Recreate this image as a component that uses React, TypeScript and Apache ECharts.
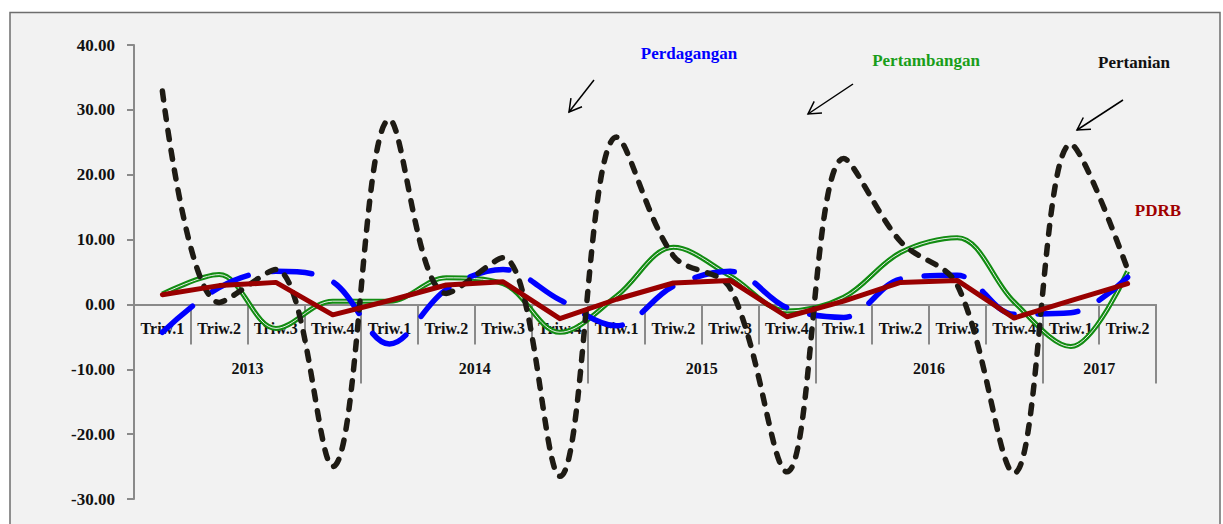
import React, { useEffect, useRef } from "react";
import * as echarts from "echarts";

const quarterLabels = [
  "Triw.1", "Triw.2", "Triw.3", "Triw.4",
  "Triw.1", "Triw.2", "Triw.3", "Triw.4",
  "Triw.1", "Triw.2", "Triw.3", "Triw.4",
  "Triw.1", "Triw.2", "Triw.3", "Triw.4",
  "Triw.1", "Triw.2",
];
const yearLabels = ["2013", "2014", "2015", "2016", "2017"];
const yearCenters = [2, 6, 10, 14, 17];
const yearBounds = [0, 4, 8, 12, 16, 18];

const pertanian = [32.9, 0.3, 5.4, -25.0, 28.5, 1.7, 7.2, -26.5, 25.8, 7.5, 2.5, -25.8, 22.5, 9.7, 3.0, -26.0, 24.7, 5.4];
const perdagangan = [-4.3, 2.6, 5.1, 3.5, -6.1, 2.3, 5.4, 0.7, -3.3, 2.8, 5.1, -0.5, -2.0, 3.9, 4.5, -1.5, -1.3, 4.2];
const pertambangan = [1.6, 4.6, -3.7, 0.5, 0.5, 4.1, 3.2, -4.3, 1.3, 8.8, 4.4, -1.0, 1.1, 8.0, 10.3, 0.4, -6.5, 5.1];
const pdrb = [1.5, 2.9, 3.4, -1.6, 0.6, 3.0, 3.5, -2.2, 0.8, 3.3, 3.7, -1.9, 0.5, 3.4, 3.7, -2.1, 0.6, 3.2];

const Y_MIN = -30;
const Y_MAX = 40;
const GRID_TOP = 45;
const GRID_BOTTOM = 25;
const CHART_H = 524;
const plotH = CHART_H - GRID_TOP - GRID_BOTTOM;
// shift the bottom axes up so that they sit on the zero line
const zeroOffset = -plotH * (0 - Y_MIN) / (Y_MAX - Y_MIN);

const FONT = '"Liberation Serif", "Times New Roman", serif';

function arrow(tail: number[], tip: number[]) {
  const dx = tail[0] - tip[0];
  const dy = tail[1] - tip[1];
  const len = Math.sqrt(dx * dx + dy * dy);
  const ux = dx / len;
  const uy = dy / len;
  const L = 14;
  const a = Math.PI / 6;
  const h1 = [tip[0] + L * (ux * Math.cos(a) - uy * Math.sin(a)), tip[1] + L * (ux * Math.sin(a) + uy * Math.cos(a))];
  const h2 = [tip[0] + L * (ux * Math.cos(-a) - uy * Math.sin(-a)), tip[1] + L * (ux * Math.sin(-a) + uy * Math.cos(-a))];
  return [
    { type: "line", silent: true, shape: { x1: tail[0], y1: tail[1], x2: tip[0], y2: tip[1] }, style: { stroke: "#000", lineWidth: 1.5 } },
    { type: "polyline", silent: true, shape: { points: [h1, tip, h2] }, style: { stroke: "#000", lineWidth: 1.5, fill: null } },
  ];
}

function label(text: string, x: number, y: number, color: string) {
  return {
    type: "text",
    silent: true,
    x,
    y,
    style: {
      text,
      fill: color,
      font: `bold 17px ${FONT}`,
      align: "center",
      verticalAlign: "middle",
      textAlign: "center",
      textVerticalAlign: "middle",
    },
  };
}

export default function App() {
  const ref = useRef<HTMLDivElement>(null);
  useEffect(() => {
    if (!ref.current) return;
    const chart = echarts.init(ref.current, undefined, { renderer: "svg" });
    const axisGray = "#8a8a8a";
    chart.setOption({
      animation: false,
      backgroundColor: "#ffffff",
      grid: { left: 134, right: 67, top: GRID_TOP, bottom: GRID_BOTTOM, containLabel: false, outerBoundsMode: "none" },
      xAxis: [
        {
          type: "category",
          data: quarterLabels,
          position: "bottom",
          offset: zeroOffset,
          boundaryGap: true,
          axisLine: { onZero: false, lineStyle: { color: axisGray, width: 2 } },
          axisTick: { show: true, length: 40, lineStyle: { color: axisGray, width: 2 } },
          axisLabel: { interval: 0, margin: 16, color: "#111", fontFamily: FONT, fontWeight: "bold", fontSize: 16 },
          splitLine: { show: false },
        },
        {
          type: "value",
          min: 0,
          max: 18,
          position: "bottom",
          offset: zeroOffset,
          axisLine: { onZero: false, show: false },
          axisTick: { show: true, customValues: yearBounds, length: 79, lineStyle: { color: axisGray, width: 2 } },
          axisLabel: {
            show: true,
            customValues: yearCenters,
            margin: 56,
            color: "#111",
            fontFamily: FONT,
            fontWeight: "bold",
            fontSize: 16,
            formatter: (v: number) => yearLabels[yearCenters.indexOf(v)] ?? "",
          },
          splitLine: { show: false },
        },
      ],
      yAxis: {
        type: "value",
        min: Y_MIN,
        max: Y_MAX,
        interval: 10,
        axisLine: { show: true, lineStyle: { color: axisGray, width: 2 } },
        axisTick: { show: true, length: 7, lineStyle: { color: axisGray, width: 2 } },
        axisLabel: {
          margin: 19,
          color: "#111",
          fontFamily: FONT,
          fontWeight: "bold",
          fontSize: 17,
          formatter: (v: number) => v.toFixed(2),
        },
        splitLine: { show: false },
      },
      graphic: [
        {
          type: "rect",
          z: -10,
          silent: true,
          shape: { x: 10, y: 12.5, width: 1210, height: 530 },
          style: { fill: "#f2f2f2", stroke: "#6e6e6e", lineWidth: 1.5 },
        },
        label("Perdagangan", 689, 53, "#0000ff"),
        label("Pertambangan", 926, 60, "#1a9e1a"),
        label("Pertanian", 1134, 62, "#111111"),
        label("PDRB", 1158, 210, "#a00000"),
        ...arrow([594, 80], [569, 112]),
        ...arrow([853, 84], [808, 114]),
        ...arrow([1123, 100], [1077, 130]),
      ],
      series: [
        {
          name: "Pertambangan",
          type: "line",
          data: pertambangan,
          smooth: 0.35,
          symbol: "none",
          lineStyle: { color: "#128c12", width: 5 },
        },
        {
          name: "Pertambangan-inner",
          type: "line",
          data: pertambangan,
          smooth: 0.35,
          symbol: "none",
          lineStyle: { color: "rgba(245,245,245,0.95)", width: 1 },
        },
        {
          name: "Perdagangan",
          type: "line",
          data: perdagangan,
          smooth: 0.35,
          symbol: "none",
          lineStyle: { color: "#0000ff", width: 5.5, type: [40, 24], cap: "round" },
        },
        {
          name: "Pertanian",
          type: "line",
          data: pertanian,
          smooth: 0.35,
          symbol: "none",
          lineStyle: { color: "#1e1b14", width: 5.5, type: [9, 11], cap: "round" },
        },
        {
          name: "PDRB",
          type: "line",
          data: pdrb,
          smooth: false,
          symbol: "none",
          lineStyle: { color: "#990000", width: 5, cap: "round", join: "round" },
        },
      ],
    });
    return () => chart.dispose();
  }, []);
  return (
    <div style={{ position: "fixed", left: 0, top: 0, width: 1223, height: 524, background: "#fff" }}>
      <div ref={ref} style={{ width: 1223, height: 524 }} />
    </div>
  );
}
